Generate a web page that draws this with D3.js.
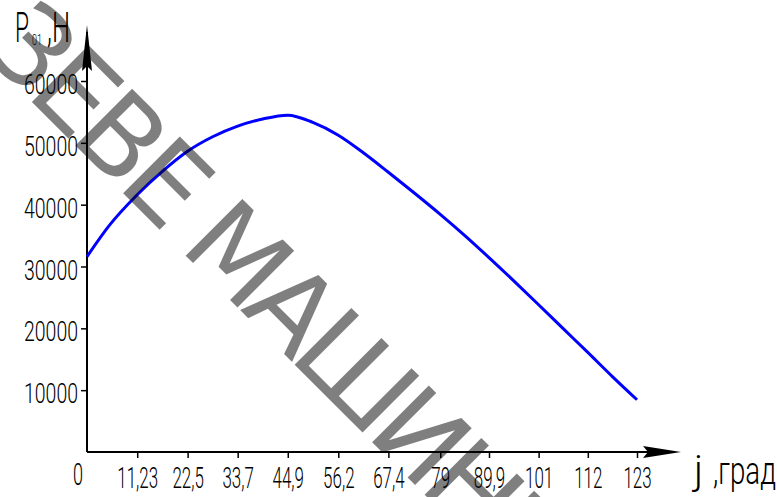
<!DOCTYPE html>
<html>
<head>
<meta charset="utf-8">
<script src="https://cdn.jsdelivr.net/npm/d3@7"></script>
<style>
body { margin: 0; background: #fff; }
svg { display: block; }
text { font-family: Roboto, "Liberation Sans", Arial, sans-serif; font-weight: 300; }
</style>
</head>
<body>
<script>
// angle, deg (j) and force P01, N
const angles = [0, 5, 11.23, 16.85, 22.5, 28.1, 33.7, 39.3, 44.9, 50.5, 56.2, 61.8, 67.4, 73.2, 79, 84.5, 89.9, 95.5, 101, 106.5, 112, 117.5, 123]
const forces = [31600, 36650, 41600, 45390, 48640, 50980, 52700, 53860, 54480, 53300, 51230, 48390, 45240, 41890, 38440, 35000, 31440, 27640, 23820, 19950, 16100, 12200, 8450]

const xTickValues = [11.23, 22.5, 33.7, 44.9, 56.2, 67.4, 79, 89.9, 101, 112, 123]
const yTickValues = [10000, 20000, 30000, 40000, 50000, 60000]
const watermark = "ЗЕВЕ МАШИНЫ"

const width = 777
const height = 497

const svg = d3.select("body")
    .append("svg")
    .attr("width", width)
    .attr("height", height)

svg.append("rect").attr("width", width).attr("height", height).attr("fill", "#fff")

const xScale = d3.scaleLinear().domain([0, 123]).range([87, 637])
const yScale = d3.scaleLinear().domain([0, 60000]).range([452, 81])

const comma = v => String(v).replace(".", ",")

// narrow drafting-style lettering: squeeze glyphs horizontally
function squeeze(sel, k) {
    sel.each(function() {
        const n = this.getComputedTextLength()
        d3.select(this).attr("textLength", n * k).attr("lengthAdjust", "spacingAndGlyphs")
    })
}

function digitWidth(size) {
    const t = svg.append("text").style("font-size", size + "px").text("0000000000")
    const w = t.node().getComputedTextLength() / 10
    t.remove()
    return w
}

// y axis ticks
const yAxis = d3.axisLeft(yScale)
    .tickValues(yTickValues)
    .tickSize(6)
    .tickPadding(3)
    .tickFormat(d => d)

const gy = svg.append("g")
    .attr("transform", "translate(" + xScale(0) + ",0)")
    .call(yAxis)
gy.select(".domain").remove()
gy.selectAll(".tick line").attr("stroke", "#000").attr("stroke-width", 1.5)
gy.selectAll(".tick text")
    .attr("fill", "#000")
    .attr("dy", "0.45em")
    .style("font-size", "28px")
    .call(squeeze, 10.8 / digitWidth(28))

// x axis ticks
const xAxis = d3.axisBottom(xScale)
    .tickValues(xTickValues)
    .tickSize(6)
    .tickPadding(9)
    .tickFormat(comma)

const gx = svg.append("g")
    .attr("transform", "translate(0," + yScale(0) + ")")
    .call(xAxis)
gx.select(".domain").remove()
gx.selectAll(".tick line").attr("stroke", "#000").attr("stroke-width", 1.5)
gx.selectAll(".tick text")
    .attr("fill", "#000")
    .style("font-size", "29px")
    .call(squeeze, 9.4 / digitWidth(29))

// origin label
svg.append("text")
    .attr("x", xScale(0) - 9)
    .attr("y", yScale(0) + 33)
    .attr("text-anchor", "middle")
    .style("font-size", "31px")
    .text("0")
    .call(squeeze, 10 / digitWidth(31))

// axis lines with arrow heads
svg.append("line")
    .attr("x1", xScale(0)).attr("y1", yScale(0))
    .attr("x2", xScale(0)).attr("y2", 32)
    .attr("stroke", "#000").attr("stroke-width", 2)
svg.append("path")
    .attr("d", "M" + xScale(0) + ",25 L" + (xScale(0) + 5) + ",71 L" + xScale(0) + ",66 L" + (xScale(0) - 5) + ",71 Z")
    .attr("fill", "#000")

svg.append("line")
    .attr("x1", xScale(0)).attr("y1", yScale(0))
    .attr("x2", 674).attr("y2", yScale(0))
    .attr("stroke", "#000").attr("stroke-width", 2)
svg.append("path")
    .attr("d", "M681," + yScale(0) + " L643," + (yScale(0) - 6) + " L648," + yScale(0) + " L643," + (yScale(0) + 6) + " Z")
    .attr("fill", "#000")

// axis titles
svg.append("text").attr("x", 15).attr("y", 42).style("font-size", "42px").text("P")
    .attr("textLength", 14).attr("lengthAdjust", "spacingAndGlyphs")
svg.append("text").attr("x", 32).attr("y", 45).style("font-size", "14px").text("01")
    .attr("textLength", 10).attr("lengthAdjust", "spacingAndGlyphs")
svg.append("text").attr("x", 47).attr("y", 42).style("font-size", "42px").text(",H")
    .attr("textLength", 23).attr("lengthAdjust", "spacingAndGlyphs")

svg.append("text").attr("x", 694).attr("y", 484).style("font-size", "40px").text("j")
    .attr("textLength", 9).attr("lengthAdjust", "spacingAndGlyphs")
svg.append("text").attr("x", 713).attr("y", 484).style("font-size", "38px").text(",град")
    .attr("textLength", 63).attr("lengthAdjust", "spacingAndGlyphs")

// curve
const line = d3.line()
    .curve(d3.curveMonotoneX)
    .x((d, i) => xScale(angles[i]))
    .y(d => yScale(d))

svg.append("path")
    .datum(forces)
    .attr("d", line)
    .attr("fill", "none")
    .attr("stroke", "#0000ff")
    .attr("stroke-width", 3)

// watermark on top
svg.append("text")
    .attr("transform", "translate(-20,50) rotate(45)")
    .style("font-family", "'DejaVu Sans', sans-serif")
    .style("font-weight", "normal")
    .style("font-size", "110px")
    .style("letter-spacing", "-8px")
    .attr("fill", "#000")
    .attr("fill-opacity", 0.5)
    .text(watermark)
</script>
</body>
</html>
